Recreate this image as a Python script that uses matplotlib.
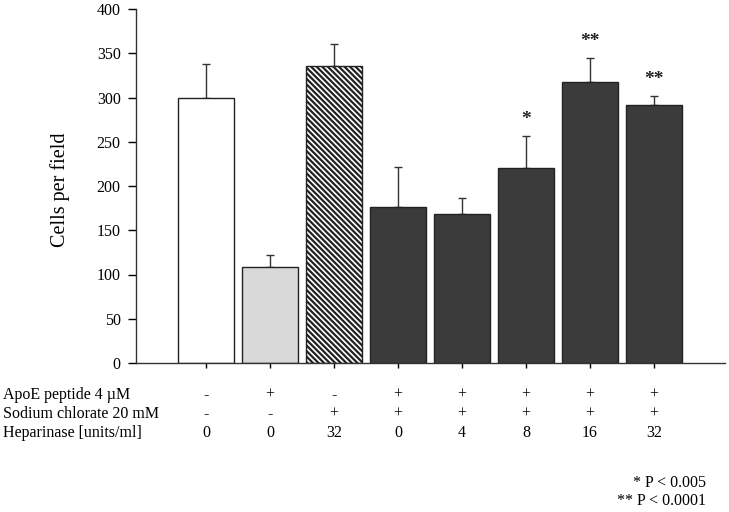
import matplotlib
matplotlib.use("Agg")
import matplotlib.pyplot as plt
import matplotlib.transforms as mtransforms

plt.rcParams['font.family'] = ['Liberation Serif', 'DejaVu Serif']
plt.rcParams['hatch.linewidth'] = 1.6

# data
cells = [300, 108, 336, 176, 168, 220, 317, 292]
err_up = [38, 14, 24, 45, 19, 37, 28, 10]
stars = ['', '', '', '', '', '*', '**', '**']
apoe = ['-', '+', '-', '+', '+', '+', '+', '+']
chlorate = ['-', '-', '+', '+', '+', '+', '+', '+']
heparinase = ['0', '0', '32', '0', '4', '8', '16', '32']
row_names = ['ApoE peptide 4 \u00b5M', 'Sodium chlorate 20 mM', 'Heparinase [units/ml]']
yticks = [0, 50, 100, 150, 200, 250, 300, 350, 400]

faces = ['white', '#d9d9d9', 'white', '#3b3b3b', '#3b3b3b', '#3b3b3b', '#3b3b3b', '#3b3b3b']
hatches = [None, None, '\\' * 6, None, None, None, None, None]

fig = plt.figure(figsize=(7.29, 5.12), dpi=100)
ax = fig.add_axes([136/729, 1 - 363/512, (725 - 136)/729, (363 - 9)/512])

x = list(range(len(cells)))
for i in x:
    ax.bar(i, cells[i], width=0.875, color=faces[i], edgecolor='#222222',
           linewidth=1.0, hatch=hatches[i], zorder=2)
ax.errorbar(x, cells, yerr=[[0]*len(cells), err_up], fmt='none',
            ecolor='#333333', elinewidth=1.0, capsize=3, capthick=1.0, zorder=1)

for i in x:
    if stars[i]:
        ax.text(i, cells[i] + err_up[i] + 18, stars[i], ha='center', va='center',
                fontsize=14, fontweight='bold', color='#222222')

ax.set_xlim(-1.094, 8.11)
ax.set_ylim(0, 400)
ax.set_yticks(yticks)
ax.set_xticks(x)
ax.set_xticklabels([])
ax.tick_params(axis='y', direction='out', length=6, width=1, pad=5, labelsize=11.5)
ax.tick_params(axis='x', direction='out', length=3.5, width=1)
for s in ['top', 'right']:
    ax.spines[s].set_visible(False)
for s in ['left', 'bottom']:
    ax.spines[s].set_linewidth(1.0)
    ax.spines[s].set_color('#333333')
ax.set_ylabel('Cells per field', fontsize=14.5)
ax.yaxis.set_label_coords(-(136 - 70)/589, 0.49)

# condition table under the axis
trans = mtransforms.blended_transform_factory(ax.transData, fig.transFigure)
rows = [apoe, chlorate, heparinase]
row_y = [395, 414, 433]
for r in range(3):
    fy = 1 - row_y[r]/512
    fig.text(3/729, fy, row_names[r], ha='left', va='center', fontsize=11.5)
    for i in x:
        ax.text(i, fy, rows[r][i], ha='center', va='center', fontsize=11.5,
                transform=trans)

fig.text(706/729, 1 - 483/512, '* P < 0.005', ha='right', va='center', fontsize=11.5)
fig.text(706/729, 1 - 501/512, '** P < 0.0001', ha='right', va='center', fontsize=11.5)

fig.savefig('out.png', dpi=100)
